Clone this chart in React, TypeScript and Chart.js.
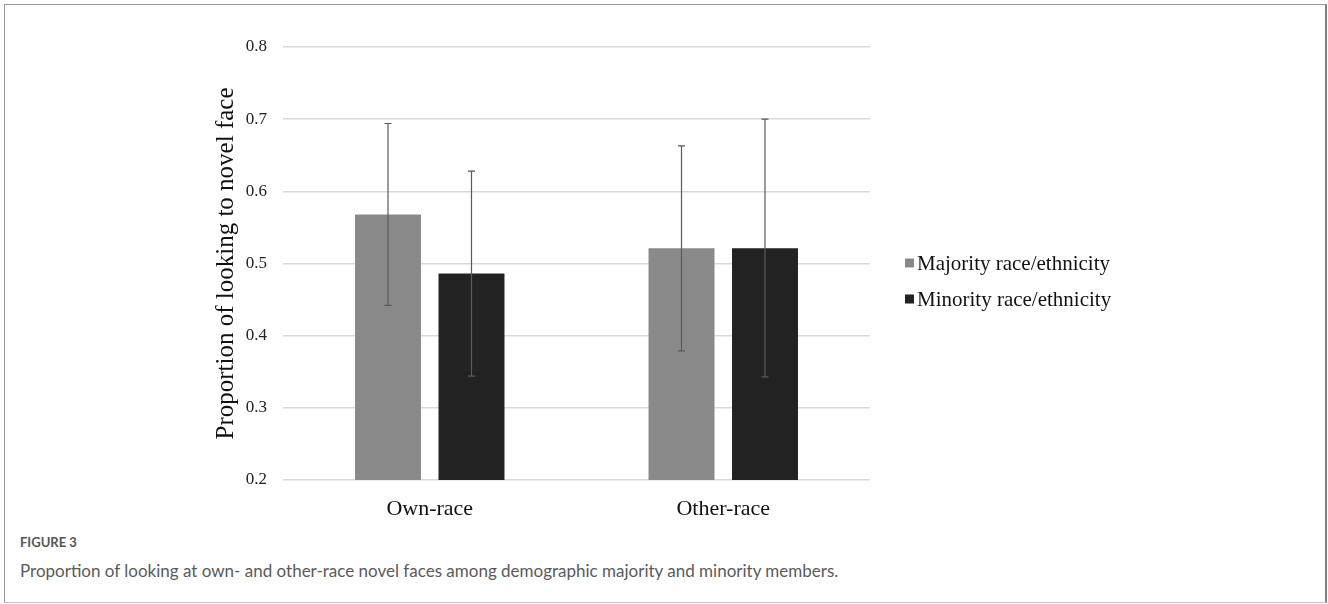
import React, { useEffect, useRef } from "react";
import { Chart, registerables } from "chart.js";

Chart.register(...registerables);

const categories = ["Own-race", "Other-race"];
const seriesLabels = ["Majority race/ethnicity", "Minority race/ethnicity"];
const majorityMean = [0.568, 0.521];
const minorityMean = [0.486, 0.521];
const majorityLow = [0.442, 0.379];
const majorityHigh = [0.694, 0.663];
const minorityLow = [0.344, 0.343];
const minorityHigh = [0.628, 0.7];
const yTicks = [0.2, 0.3, 0.4, 0.5, 0.6, 0.7, 0.8];

const SERIF = "'Liberation Serif', 'Times New Roman', serif";

const errorBarPlugin = {
  id: "errorBars",
  afterDatasetsDraw(chart: any) {
    const ctx = chart.ctx;
    const y = chart.scales.y;
    chart.data.datasets.forEach((ds: any, di: number) => {
      const meta = chart.getDatasetMeta(di);
      meta.data.forEach((bar: any, i: number) => {
        const lo = ds.errLow[i];
        const hi = ds.errHigh[i];
        const x = bar.x;
        const yl = y.getPixelForValue(lo);
        const yh = y.getPixelForValue(hi);
        ctx.save();
        ctx.strokeStyle = "#5a5a5a";
        ctx.lineWidth = 1.2;
        ctx.beginPath();
        ctx.moveTo(x, yl);
        ctx.lineTo(x, yh);
        ctx.moveTo(x - 3.5, yl);
        ctx.lineTo(x + 3.5, yl);
        ctx.moveTo(x - 3.5, yh);
        ctx.lineTo(x + 3.5, yh);
        ctx.stroke();
        ctx.restore();
      });
    });
  },
};

const legendPlugin = {
  id: "customLegend",
  afterDraw(chart: any) {
    const ctx = chart.ctx;
    const area = chart.chartArea;
    const x0 = area.right + 35;
    const rows = [263, 299];
    ctx.save();
    chart.data.datasets.forEach((ds: any, i: number) => {
      const cy = rows[i];
      ctx.fillStyle = ds.backgroundColor;
      ctx.fillRect(x0, cy - 4.5, 9, 9);
      ctx.fillStyle = "#111";
      ctx.font = `21px ${SERIF}`;
      ctx.textBaseline = "middle";
      ctx.textAlign = "left";
      ctx.fillText(ds.label, x0 + 12, cy + 1);
    });
    ctx.restore();
  },
};

export default function App() {
  const ref = useRef<HTMLCanvasElement | null>(null);

  useEffect(() => {
    if (!ref.current) return;
    const chart = new Chart(ref.current, {
      type: "bar",
      data: {
        labels: categories,
        datasets: [
          {
            label: seriesLabels[0],
            data: majorityMean,
            backgroundColor: "#898989",
            errLow: majorityLow,
            errHigh: majorityHigh,
          } as any,
          {
            label: seriesLabels[1],
            data: minorityMean,
            backgroundColor: "#222222",
            errLow: minorityLow,
            errHigh: minorityHigh,
          } as any,
        ],
      },
      options: {
        responsive: false,
        animation: false,
        devicePixelRatio: 1,
        layout: { padding: { left: 207, right: 458, top: 47, bottom: 0 } },
        datasets: {
          bar: { categoryPercentage: 0.569, barPercentage: 0.79 },
        },
        plugins: {
          legend: { display: false },
          tooltip: { enabled: false },
        },
        scales: {
          x: {
            grid: { display: false },
            border: { display: false },
            ticks: {
              color: "#111",
              font: { family: SERIF, size: 22 },
              padding: 8,
            },
            afterFit(scale: any) {
              scale.height = 40;
            },
          },
          y: {
            min: 0.2,
            max: 0.8,
            afterBuildTicks(scale: any) {
              scale.ticks = yTicks.map((v) => ({ value: v }));
            },
            ticks: {
              color: "#222",
              font: { family: SERIF, size: 17 },
              padding: 16,
              callback: (v: any) => Number(v).toFixed(1),
            },
            grid: {
              color: "#d9d9d9",
              lineWidth: 1.5,
              drawTicks: false,
            },
            border: { display: false },
            title: {
              display: true,
              text: "Proportion of looking to novel face",
              color: "#111",
              font: { family: SERIF, size: 25 },
              padding: 4,
            },
            afterFit(scale: any) {
              scale.width = 76;
            },
          },
        },
      },
      plugins: [errorBarPlugin, legendPlugin],
    });
    return () => chart.destroy();
  }, []);

  return (
    <div
      style={{
        position: "absolute",
        left: 0,
        top: 0,
        width: 1328,
        height: 604,
        background: "#fff",
        overflow: "hidden",
      }}
    >
      <div
        style={{
          position: "absolute",
          left: 4,
          top: 4,
          width: 1323,
          height: 599,
          boxSizing: "border-box",
          borderTop: "1px solid #9a9a9a",
          borderLeft: "1px solid #9a9a9a",
          borderRight: "2px solid #808080",
          borderBottom: "1px solid #c4c4c4",
        }}
      />
      <canvas
        ref={ref}
        width={1328}
        height={520}
        style={{ position: "absolute", left: 0, top: 0, width: 1328, height: 520 }}
      />
      <div
        style={{
          position: "absolute",
          left: 20,
          top: 533,
          fontFamily: "Lato, 'Open Sans', sans-serif",
          fontSize: 13,
          fontWeight: 700,
          color: "#555",
          lineHeight: "18px",
          whiteSpace: "nowrap",
        }}
      >
        FIGURE 3
      </div>
      <div
        style={{
          position: "absolute",
          left: 20,
          top: 560,
          fontFamily: "Lato, 'Open Sans', sans-serif",
          fontSize: 17,
          color: "#5a5a5a",
          lineHeight: "22px",
          whiteSpace: "nowrap",
        }}
      >
        Proportion of looking at own- and other-race novel faces among demographic majority and minority members.
      </div>
    </div>
  );
}
